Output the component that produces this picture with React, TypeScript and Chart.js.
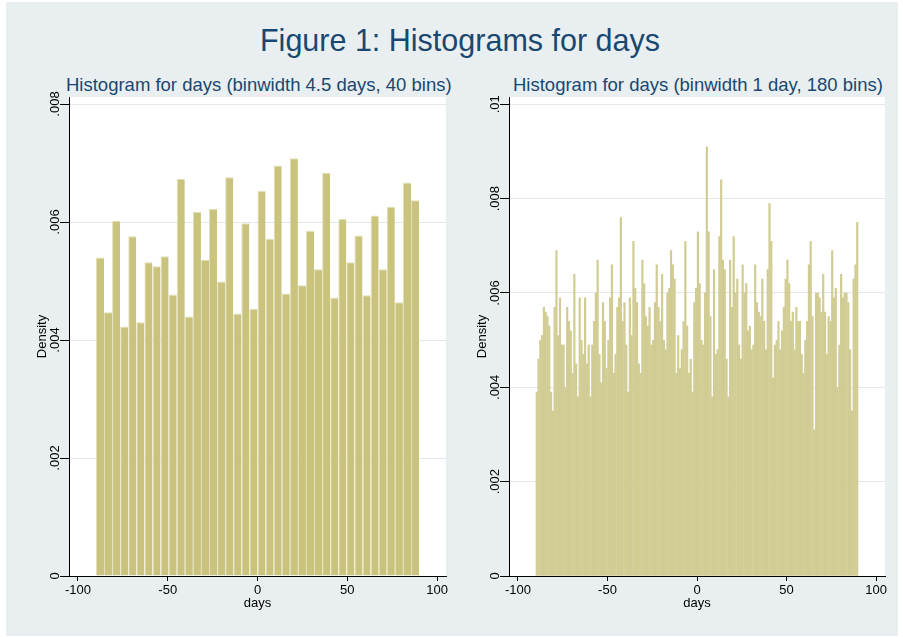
import React, { useEffect, useRef } from "react";
import { Chart, registerables } from "chart.js";

Chart.register(...registerables);

// ---------- DATA ----------
const leftBinStart = -90;
const leftBinWidth = 4.5;
const leftDensity = [
  0.0054, 0.00447, 0.00602, 0.00423, 0.00576, 0.0043, 0.00532, 0.00525, 0.00542, 0.00477,
  0.00673, 0.0044, 0.00617, 0.00536, 0.00622, 0.00499, 0.00676, 0.00445, 0.00598, 0.00453,
  0.00653, 0.00571, 0.00696, 0.00479, 0.00708, 0.00493, 0.00585, 0.0052, 0.00683, 0.00472,
  0.00605, 0.00532, 0.00577, 0.00476, 0.00611, 0.0052, 0.00626, 0.00464, 0.00667, 0.00637,
];

const rightBinStart = -90;
const rightBinWidth = 1;
const rightDensity = [
  0.0039, 0.0046, 0.005, 0.0051, 0.0057, 0.0056, 0.0055, 0.0053, 0.0039, 0.0035,
  0.0057, 0.0069, 0.0051, 0.0059, 0.0049, 0.0049, 0.004, 0.0057, 0.0054, 0.0052,
  0.0043, 0.0064, 0.0045, 0.0038, 0.0059, 0.005, 0.0047, 0.0059, 0.0045, 0.0049,
  0.0038, 0.0049, 0.0054, 0.006, 0.0067,
  0.0047, 0.0041, 0.0058, 0.0054, 0.0044, 0.005, 0.0059, 0.0066, 0.0043, 0.0047,
  0.0057, 0.0059, 0.0076, 0.0054, 0.0058, 0.0049, 0.0039, 0.0059, 0.0051, 0.0071,
  0.0061, 0.0058, 0.0045, 0.0043, 0.0067, 0.0062, 0.0055, 0.0053, 0.0057, 0.0049,
  0.005, 0.0058, 0.0066, 0.0057, 0.0054, 0.0064,
  0.005, 0.0048, 0.006, 0.0061, 0.0069, 0.0066, 0.0063, 0.0043, 0.0051, 0.0044,
  0.0048, 0.0054, 0.0071, 0.0053, 0.0043, 0.0046, 0.0039, 0.0058, 0.0061, 0.0073,
  0.0062, 0.005, 0.0049, 0.006, 0.0091, 0.0073, 0.0055, 0.0038, 0.0065, 0.0047,
  0.0048, 0.0072, 0.0084, 0.0067, 0.0065,
  0.0046, 0.0038, 0.0067, 0.0057, 0.0072, 0.006, 0.0063, 0.0049, 0.0046, 0.0066,
  0.006, 0.0062, 0.0052, 0.0053, 0.0048, 0.0049, 0.0066, 0.0058, 0.0056, 0.0055,
  0.0063, 0.0054, 0.0048, 0.0065, 0.0079, 0.0071, 0.0042, 0.0049, 0.005, 0.0054,
  0.0048, 0.0052, 0.0057, 0.0063, 0.0067, 0.0062,
  0.0054, 0.0056, 0.0048, 0.0057, 0.0054, 0.0054, 0.0047, 0.0043, 0.005, 0.0054,
  0.0066, 0.0071, 0.0055, 0.0031, 0.006, 0.006, 0.0059, 0.0056, 0.0064, 0.0056,
  0.0047, 0.0055, 0.0054, 0.0069, 0.0059, 0.0061, 0.004, 0.0049, 0.0064, 0.0059,
  0.006, 0.006, 0.0058, 0.0048, 0.0035, 0.0063, 0.0066, 0.0075,
];

const xTicks = [-100, -50, 0, 50, 100];
const xTickLabels = ["-100", "-50", "0", "50", "100"];
const leftYTicks = [0, 0.002, 0.004, 0.006, 0.008];
const leftYTickLabels = ["0", ".002", ".004", ".006", ".008"];
const rightYTicks = [0, 0.002, 0.004, 0.006, 0.008, 0.01];
const rightYTickLabels = ["0", ".002", ".004", ".006", ".008", ".01"];

const mainTitle = "Figure 1: Histograms for days";
const leftSubtitle = "Histogram for days (binwidth 4.5 days, 40 bins)";
const rightSubtitle = "Histogram for days (binwidth 1 day, 180 bins)";
const xTitle = "days";
const yTitle = "Density";

// ---------- STYLE ----------
const FONT = "'Liberation Sans', Arial, Helvetica, sans-serif";
const NAVY = "#1a476f";
const BG = "#e9eff0";
const GRID = "#e1e9eb";

type HistProps = {
  values: number[];
  binStart: number;
  binWidth: number;
  yMax: number;
  yTicks: number[];
  yTickLabels: string[];
  fill: string;
  edge: string;
  edgeWidth: number;
  inflate: number;
  left: number;
  width: number;
};

const bgPlugin = {
  id: "plotBg",
  beforeDraw(chart: any) {
    const { ctx, chartArea } = chart;
    ctx.save();
    ctx.fillStyle = "#ffffff";
    ctx.fillRect(chartArea.left, chartArea.top, chartArea.right - chartArea.left, chartArea.bottom - chartArea.top);
    ctx.restore();
  },
};

function Hist(p: HistProps) {
  const ref = useRef<HTMLCanvasElement | null>(null);
  useEffect(() => {
    if (!ref.current) return;
    const data = p.values.map((v, i) => ({ x: p.binStart + p.binWidth * (i + 0.5), y: v }));
    const yLabelPlugin = {
      id: "yLabels",
      afterDraw(chart: any) {
        const { ctx, chartArea } = chart;
        const ys = chart.scales.y;
        ctx.save();
        ctx.fillStyle = "#000";
        ctx.font = `13px ${FONT}`;
        ctx.textAlign = "center";
        ctx.textBaseline = "middle";
        p.yTicks.forEach((v, i) => {
          const py = ys.getPixelForValue(v);
          ctx.save();
          ctx.translate(chartArea.left - 14, py);
          ctx.rotate(-Math.PI / 2);
          ctx.fillText(p.yTickLabels[i], 0, 0);
          ctx.restore();
        });
        ctx.restore();
      },
    };
    const chart = new Chart(ref.current, {
      type: "bar",
      data: {
        datasets: [
          {
            data: data as any,
            backgroundColor: p.fill,
            borderColor: p.edge,
            borderWidth: { left: p.edgeWidth, top: p.edgeWidth, right: 0, bottom: 0 } as any,
            borderSkipped: "bottom",
            barPercentage: 1,
            categoryPercentage: 1,
            inflateAmount: p.inflate,
          } as any,
        ],
      },
      options: {
        animation: false,
        responsive: false,
        maintainAspectRatio: false,
        layout: { padding: { left: 0, right: 4, top: 10, bottom: 0 } },
        plugins: { legend: { display: false }, tooltip: { enabled: false }, title: { display: false } },
        scales: {
          x: {
            type: "linear",
            min: -105,
            max: 105,
            offset: false,
            afterBuildTicks: (s: any) => {
              s.ticks = xTicks.map((v) => ({ value: v }));
            },
            afterFit: (s: any) => {
              s.height = 44;
            },
            ticks: {
              autoSkip: false,
              maxRotation: 0,
              minRotation: 0,
              padding: 2,
              color: "#000",
              font: { family: FONT, size: 13 },
              callback: (_v: any, i: number) => xTickLabels[i],
            },
            grid: {
              display: true,
              drawOnChartArea: false,
              drawTicks: true,
              tickLength: 5,
              tickColor: "#000",
              color: "rgba(0,0,0,0)",
              offset: false,
            },
            border: { display: true, color: "#000", width: 1 },
            title: {
              display: true,
              text: xTitle,
              color: "#000",
              font: { family: FONT, size: 13 },
              padding: { top: 0, bottom: 9 },
            },
          } as any,
          y: {
            type: "linear",
            min: 0,
            max: p.yMax,
            afterBuildTicks: (s: any) => {
              s.ticks = p.yTicks.map((v) => ({ value: v }));
            },
            afterFit: (s: any) => {
              s.width = 49;
            },
            ticks: { display: false },
            grid: {
              display: true,
              drawTicks: true,
              tickLength: 9,
              tickColor: "#000",
              color: (c: any) => (c.tick && c.tick.value === 0 ? "rgba(0,0,0,0)" : GRID),
              lineWidth: 1,
            },
            border: { display: true, color: "#000", width: 1 },
            title: {
              display: true,
              text: yTitle,
              color: "#000",
              font: { family: FONT, size: 13 },
              padding: { top: 15, bottom: 0 },
            },
          } as any,
        },
      },
      plugins: [bgPlugin, yLabelPlugin],
    });
    return () => chart.destroy();
  }, []);
  return (
    <canvas
      ref={ref}
      width={p.width}
      height={533}
      style={{ position: "absolute", left: p.left, top: 87, width: p.width, height: 533 }}
    />
  );
}

const subtitleStyle = (left: number): React.CSSProperties => ({
  position: "absolute",
  left,
  top: 76,
  fontFamily: FONT,
  fontSize: 18.5,
  lineHeight: "18px",
  color: NAVY,
  whiteSpace: "nowrap",
});

export default function App() {
  return (
    <div style={{ position: "absolute", left: 0, top: 0, width: 903, height: 637, background: "#ffffff", overflow: "hidden" }}>
      <div style={{ position: "absolute", left: 6, top: 2, width: 892, height: 634, background: BG }} />
      <div
        style={{
          position: "absolute",
          left: 0,
          width: 920,
          top: 25,
          textAlign: "center",
          fontFamily: FONT,
          fontSize: 30.5,
          lineHeight: "30px",
          color: NAVY,
          whiteSpace: "nowrap",
        }}
      >
        {mainTitle}
      </div>
      <div style={subtitleStyle(66)}>{leftSubtitle}</div>
      <div style={subtitleStyle(513)}>{rightSubtitle}</div>
      <Hist
        values={leftDensity}
        binStart={leftBinStart}
        binWidth={leftBinWidth}
        yMax={0.008119}
        yTicks={leftYTicks}
        yTickLabels={leftYTickLabels}
        fill="#c9c37e"
        edge="#e2dfb6"
        edgeWidth={1}
        inflate={0}
        left={20}
        width={430}
      />
      <Hist
        values={rightDensity}
        binStart={rightBinStart}
        binWidth={rightBinWidth}
        yMax={0.010155}
        yTicks={rightYTicks}
        yTickLabels={rightYTickLabels}
        fill="#d1cc93"
        edge="#d1cc93"
        edgeWidth={0}
        inflate={0.2}
        left={460}
        width={429}
      />
    </div>
  );
}
